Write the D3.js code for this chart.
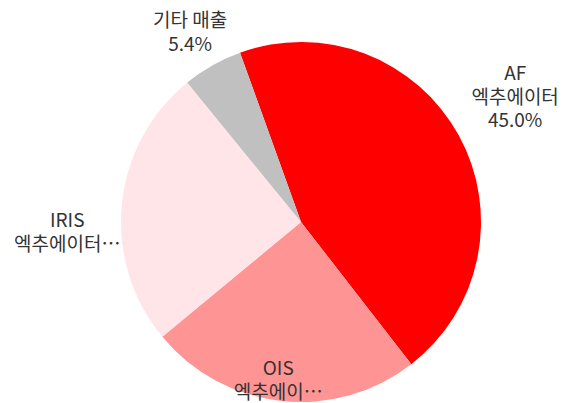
<!DOCTYPE html>
<html>
<head>
<meta charset="utf-8">
<script src="https://cdn.jsdelivr.net/npm/d3@7"></script>
<style>
  body { margin: 0; background: #fff; }
  svg text { font-family: "Noto Sans CJK KR", "Noto Sans", sans-serif; fill: #333; }
</style>
</head>
<body>
<div id="chart"></div>
<script>
// slice data, clockwise from the AF slice
const names = ["AF 엑추에이터", "OIS 엑추에이터", "IRIS 엑추에이터", "기타 매출"];
const shares = [45.0, 24.5, 25.1, 5.4];
const colors = ["#ff0000", "#ff9494", "#ffe5e8", "#c0c0c0"];
// label lines as they appear in the chart (long ones cut with an ellipsis)
const labelLines = [
  ["AF", "엑추에이터", "45.0%"],
  ["OIS", "엑추에이…"],
  ["IRIS", "엑추에이터…"],
  ["기타 매출", "5.4%"]
];

const width = 570, height = 403;
const cx = 301, cy = 222, radius = 180;
const startDeg = -19.8;
// label placement: distance as share of radius, and small angle nudge (deg)
const labelDist = [1.378, 0.887, 1.30, 1.22];
const labelNudge = [-1.5, 1.9, -8.2, -0.8];

const svg = d3.select("#chart").append("svg")
  .attr("width", width)
  .attr("height", height);

const g = svg.append("g")
  .attr("transform", "translate(" + cx + "," + cy + ")");

const data = names.map((n, i) => ({ name: n, value: shares[i], i: i }));

const pie = d3.pie()
  .sort(null)
  .value(d => d.value)
  .startAngle(startDeg * Math.PI / 180)
  .endAngle((startDeg + 360) * Math.PI / 180);

const arc = d3.arc().innerRadius(0).outerRadius(radius);

const arcs = pie(data);

g.selectAll("path.slice")
  .data(arcs)
  .enter().append("path")
  .attr("class", "slice")
  .attr("d", arc)
  .attr("fill", d => colors[d.data.i]);

const lineH = 24;
const labels = g.selectAll("text.lbl")
  .data(arcs)
  .enter().append("text")
  .attr("class", "lbl")
  .attr("text-anchor", "middle")
  .style("font-size", "19px")
  .attr("transform", d => {
    const a = (d.startAngle + d.endAngle) / 2 + labelNudge[d.data.i] * Math.PI / 180;
    const r = radius * labelDist[d.data.i];
    return "translate(" + (Math.sin(a) * r) + "," + (-Math.cos(a) * r) + ")";
  });

labels.each(function(d) {
  const lines = labelLines[d.data.i];
  const t = d3.select(this);
  const top = -(lines.length - 1) * lineH / 2;
  lines.forEach((ln, k) => {
    t.append("tspan")
      .attr("x", 0)
      .attr("y", top + k * lineH)
      .attr("dy", "0.35em")
      .text(ln);
  });
});
</script>
</body>
</html>
